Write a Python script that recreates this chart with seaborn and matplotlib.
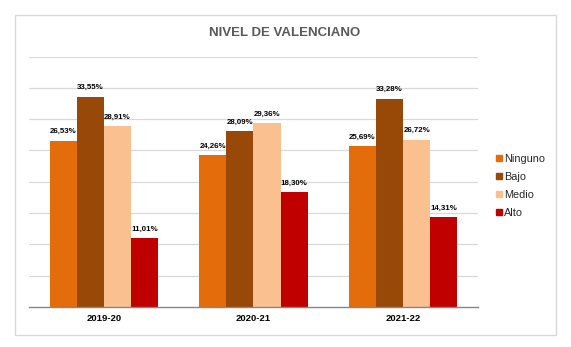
import matplotlib
matplotlib.use("Agg")
import matplotlib.pyplot as plt
from matplotlib.patches import Rectangle
from matplotlib.lines import Line2D
import seaborn as sns
import pandas as pd

years = ["2019-20", "2020-21", "2021-22"]
levels = ["Ninguno", "Bajo", "Medio", "Alto"]
ninguno = [26.53, 24.26, 25.69]
bajo = [33.55, 28.09, 33.28]
medio = [28.91, 29.36, 26.72]
alto = [11.01, 18.30, 14.31]
colors = ["#E46C0A", "#984807", "#FAC090", "#C00000"]

rows = []
for lvl, vals in zip(levels, [ninguno, bajo, medio, alto]):
    for y, v in zip(years, vals):
        rows.append({"year": y, "level": lvl, "value": v})
df = pd.DataFrame(rows)

sns.set_style("white")
plt.rcParams["font.family"] = ["Liberation Sans", "DejaVu Sans"]

fig = plt.figure(figsize=(5.71, 3.47), dpi=100)
ax = fig.add_axes([29/571, 1-307/347, (478-29)/571, (307-56.5)/347])

sns.barplot(data=df, x="year", y="value", hue="level", order=years,
            hue_order=levels, palette=colors, width=0.726, gap=0,
            saturation=1, ax=ax, legend=False, errorbar=None,
            linewidth=0, edgecolor="none")

ax.set_ylim(0, 40)
ax.set_xlim(-0.5, 2.5)
ax.set_yticks([5, 10, 15, 20, 25, 30, 35, 40])
ax.set_yticklabels([])
ax.tick_params(axis="y", length=0)
ax.yaxis.grid(True, color="#D9D9D9", linewidth=0.9)
ax.set_axisbelow(True)
for s in ["top", "right", "left"]:
    ax.spines[s].set_visible(False)
ax.spines["bottom"].set_color("#868686")
ax.spines["bottom"].set_linewidth(1)
ax.set_xlabel("")
ax.set_ylabel("")
ax.set_xticks([0, 1, 2])
ax.set_xticklabels(years, fontsize=6.8, fontweight="bold", color="#000000")
ax.tick_params(axis="x", which="major", length=0, pad=5)
ax.set_xticks([-0.5, 0.5, 1.5, 2.5], minor=True)
ax.tick_params(axis="x", which="minor", length=3, color="#868686", width=1)

for cont in ax.containers:
    ax.bar_label(cont, labels=[f"{v:.2f}%".replace(".", ",") for v in cont.datavalues],
                 padding=4, fontsize=5.7, fontweight="bold", color="#000000")

fig.text(285/571, 1-33/347, "NIVEL DE VALENCIANO", ha="center", va="center",
         fontsize=9.5, fontweight="bold", color="#595959")

handles = [Line2D([], [], marker="s", linestyle="none", markersize=4.5,
                  markerfacecolor=c, markeredgecolor=c) for c in colors]
fig.legend(handles, levels, loc="center left", bbox_to_anchor=(490/571, 1-186/347),
           frameon=False, fontsize=7.8, handlelength=0.6, handletextpad=0.2,
           labelspacing=0.75, borderpad=0)

fig.patches.append(Rectangle((15/571, 1-335/347), (556-15)/571, (335-15)/347,
                             transform=fig.transFigure, fill=False,
                             edgecolor="#D9D9D9", linewidth=1))

fig.savefig("out.png", dpi=100, facecolor="white")
